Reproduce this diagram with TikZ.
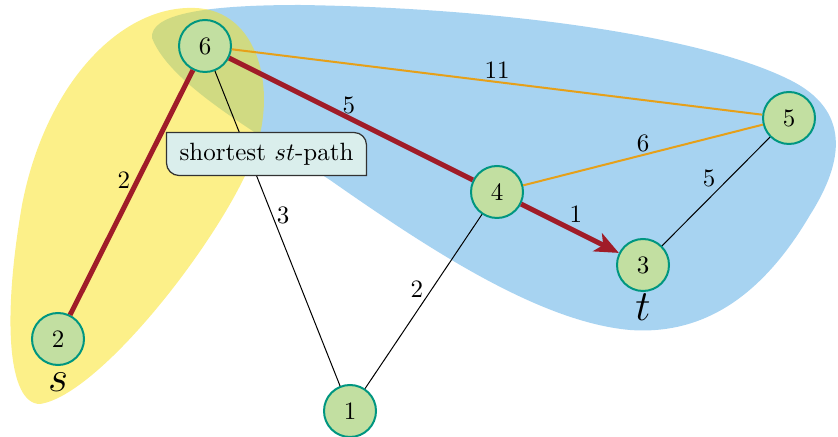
\documentclass[tikz,border=0pt]{standalone}
\usetikzlibrary{arrows.meta,calc}
\definecolor{blobblue}{RGB}{167,211,241}
\definecolor{blobyellow}{RGB}{250,225,20}
\definecolor{nodefill}{RGB}{194,223,161}
\definecolor{nodeline}{RGB}{0,150,128}
\definecolor{pathred}{RGB}{160,28,40}
\definecolor{edgeorange}{RGB}{230,160,25}
\definecolor{boxfill}{RGB}{218,238,236}
\definecolor{boxline}{RGB}{50,50,50}
\tikzset{
  vert/.style={circle, draw=nodeline, line width=0.8pt, fill=nodefill, minimum size=20.8pt, inner sep=0pt},
  redge/.style={draw=pathred, line width=2pt},
  oedge/.style={draw=edgeorange, line width=0.8pt},
  bedge/.style={draw=black, line width=0.4pt},
  lbl/.style={inner sep=0pt},
  setlbl/.style={inner sep=0pt, font=\LARGE},
}
\begin{document}
\begin{tikzpicture}[x=0.4pt,y=-0.4pt]
\useasboundingbox (0,0) rectangle (838,437);
% blobs
\fill[blobblue] (152,38) .. controls (150,15) and (200,5) .. (300,5)
  .. controls (500,8) and (700,35) .. (790,80)
  .. controls (850,110) and (845,160) .. (810,215)
  .. controls (760,300) and (700,335) .. (630,330)
  .. controls (540,322) and (430,250) .. (330,180)
  .. controls (260,135) and (170,85) .. (152,38) -- cycle;
\fill[blobyellow, opacity=0.5] (40,404) .. controls (8,404) and (2,320) .. (22,205)
  .. controls (45,85) and (120,5) .. (195,8)
  .. controls (258,10) and (280,90) .. (252,160)
  .. controls (220,240) and (100,395) .. (40,404) -- cycle;
% nodes
\node[vert] (n6) at (205,46) {6};
\node[vert] (n5) at (789,118) {5};
\node[vert] (n4) at (497,192) {4};
\node[vert] (n3) at (643,265) {3};
\node[vert] (n2) at (58,339) {2};
\node[vert] (n1) at (350,411) {1};
\node[setlbl] (ls) at (58,382) {$s$};
\node[setlbl] (lt) at (643,307) {$t$};
% edges
\draw[oedge] (n6) -- (n5);
\draw[oedge] (n4) -- (n5);
\draw[bedge] (n5) -- (n3);
\draw[bedge] (n6) -- (n1);
\draw[bedge] (n4) -- (n1);
\draw[redge] (n6) -- (n2);
\draw[redge] (n6) -- (n4);
\draw[redge, -{Stealth[length=9.5pt,width=8pt,inset=2.5pt]}] (n4) -- (n3);
% edge labels
\node[lbl] (w65) at ($(n6)!0.5!(n5)+(0,-12)$) {11};
\node[lbl] (w64) at ($(n6)!0.493!(n4)+(0,-13)$) {5};
\node[lbl] (w43) at ($(n4)!0.54!(n3)+(0,-17)$) {1};
\node[lbl] (w45) at ($(n4)!0.5!(n5)+(0,-12)$) {6};
\node[lbl] (w53) at ($(n5)!0.548!(n3)+(0,-20)$) {5};
\node[lbl] (w62) at ($(n6)!0.457!(n2)+(-14,0)$) {2};
\node[lbl] (w61) at ($(n6)!0.463!(n1)+(11,0)$) {3};
\node[lbl] (w41) at ($(n4)!0.443!(n1)+(-15,0)$) {2};
% box
\node[minimum width=79.6pt, minimum height=16.8pt, inner sep=0pt] (box) at (266.5,154) {};
\fill[boxfill] (box.north west) -- ([xshift=-5pt]box.north east) arc[start angle=90, end angle=0, radius=5pt]
  -- (box.south east) -- ([xshift=5pt]box.south west) arc[start angle=270, end angle=180, radius=5pt] -- cycle;
\draw[boxline, line width=0.5pt] (box.north west) -- ([xshift=-5pt]box.north east) arc[start angle=90, end angle=0, radius=5pt]
  -- (box.south east) -- ([xshift=5pt]box.south west) arc[start angle=270, end angle=180, radius=5pt] -- cycle;
\node[inner sep=0pt] (boxtext) at (box.center) {shortest $st$-path};
\end{tikzpicture}
\end{document}
